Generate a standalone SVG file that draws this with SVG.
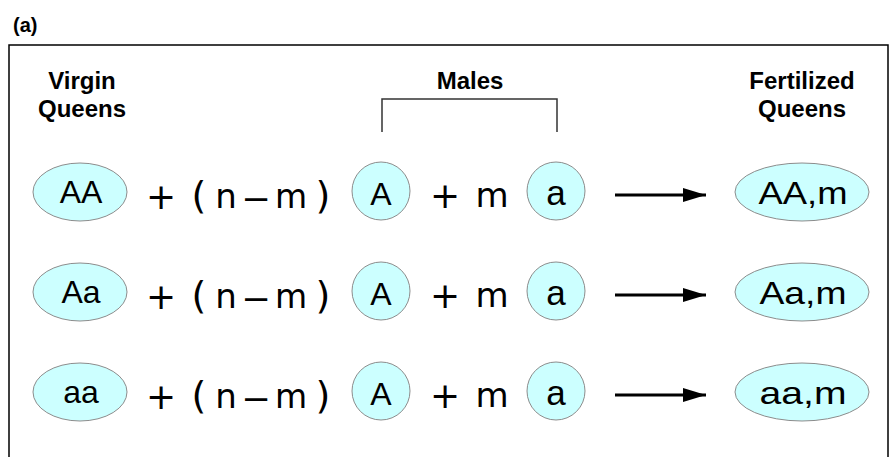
<svg xmlns="http://www.w3.org/2000/svg" width="895" height="457" viewBox="0 0 895 457">
<style>
text{font-family:"Liberation Sans",Arial,sans-serif;fill:#000}
.h{font-weight:bold;font-size:24px;text-anchor:middle}
.g{font-size:32px;text-anchor:middle}
.e{font-family:"DejaVu Sans",sans-serif;font-size:34px;text-anchor:middle}
.m{font-family:"DejaVu Sans",sans-serif;font-size:33px;text-anchor:middle}
.d{font-family:"Liberation Sans",Arial,sans-serif;font-size:40px;text-anchor:middle}
.q{font-family:"DejaVu Sans",sans-serif;font-size:38px;text-anchor:middle}
.p{font-family:"DejaVu Sans",sans-serif;font-size:36px;text-anchor:middle}
.n{fill:#ccffff;stroke:#8c8c8c;stroke-width:1}
.ar{stroke:#000;stroke-width:3;fill:none}
</style>
<defs>
<marker id="ah" viewBox="0 0 23 14" refX="23" refY="7" markerWidth="23" markerHeight="14" markerUnits="userSpaceOnUse" orient="auto">
<path d="M0,0 L23,7 L0,14 Z" fill="#000"/>
</marker>
</defs>
<rect width="895" height="457" fill="#fff"/>
<text x="13" y="32" style="font-weight:bold;font-size:20px">(a)</text>
<path d="M9,460 V45 H888 V460" fill="none" stroke="#000" stroke-width="1.5"/>
<g id="headers">
<text class="h" x="82" y="89">Virgin</text>
<text class="h" x="82" y="117">Queens</text>
<text class="h" x="470" y="89">Males</text>
<path d="M382,132 V99 H557 V132" fill="none" stroke="#333" stroke-width="1.5"/>
<text class="h" x="802" y="89">Fertilized</text>
<text class="h" x="802" y="117">Queens</text>
</g>
<g id="connectors">
<line class="ar" x1="615" y1="195" x2="706" y2="195" marker-end="url(#ah)"/>
<line class="ar" x1="615" y1="295" x2="706" y2="295" marker-end="url(#ah)"/>
<line class="ar" x1="615" y1="395" x2="706" y2="395" marker-end="url(#ah)"/>
</g>
<g id="row1">
<g id="vq1"><ellipse class="n" cx="80" cy="192" rx="47" ry="29"/><text class="g" x="81" y="203">AA</text></g>
<text class="p" x="161" y="209">+</text>
<text class="q" x="199" y="208">(</text>
<text class="e" x="226" y="208">n</text>
<text class="d" x="256" y="210">–</text>
<text class="m" x="291" y="208">m</text>
<text class="q" x="323" y="208">)</text>
<g id="mA1"><circle class="n" cx="381" cy="191" r="29"/><text class="g" x="381" y="205">A</text></g>
<text class="p" x="445" y="208">+</text>
<text class="e" x="492" y="207">m</text>
<g id="ma1"><circle class="n" cx="556" cy="191" r="29"/><text class="g" x="556" y="205" style="font-size:35px">a</text></g>
<g id="fq1"><ellipse class="n" cx="802" cy="192" rx="67" ry="29"/><text class="g" x="803" y="204" textLength="89" lengthAdjust="spacingAndGlyphs">AA,m</text></g>
</g>
<g id="row2">
<g id="vq2"><ellipse class="n" cx="80" cy="292" rx="47" ry="29"/><text class="g" x="81" y="303">Aa</text></g>
<text class="p" x="161" y="309">+</text>
<text class="q" x="199" y="308">(</text>
<text class="e" x="226" y="308">n</text>
<text class="d" x="256" y="310">–</text>
<text class="m" x="291" y="308">m</text>
<text class="q" x="323" y="308">)</text>
<g id="mA2"><circle class="n" cx="381" cy="291" r="29"/><text class="g" x="381" y="305">A</text></g>
<text class="p" x="445" y="308">+</text>
<text class="e" x="492" y="307">m</text>
<g id="ma2"><circle class="n" cx="556" cy="291" r="29"/><text class="g" x="556" y="305" style="font-size:35px">a</text></g>
<g id="fq2"><ellipse class="n" cx="802" cy="292" rx="67" ry="29"/><text class="g" x="803" y="304" textLength="87" lengthAdjust="spacingAndGlyphs">Aa,m</text></g>
</g>
<g id="row3">
<g id="vq3"><ellipse class="n" cx="80" cy="392" rx="47" ry="29"/><text class="g" x="81" y="403">aa</text></g>
<text class="p" x="161" y="409">+</text>
<text class="q" x="199" y="408">(</text>
<text class="e" x="226" y="408">n</text>
<text class="d" x="256" y="410">–</text>
<text class="m" x="291" y="408">m</text>
<text class="q" x="323" y="408">)</text>
<g id="mA3"><circle class="n" cx="381" cy="391" r="29"/><text class="g" x="381" y="405">A</text></g>
<text class="p" x="445" y="408">+</text>
<text class="e" x="492" y="407">m</text>
<g id="ma3"><circle class="n" cx="556" cy="391" r="29"/><text class="g" x="556" y="405" style="font-size:35px">a</text></g>
<g id="fq3"><ellipse class="n" cx="802" cy="392" rx="67" ry="29"/><text class="g" x="803" y="404" textLength="87" lengthAdjust="spacingAndGlyphs">aa,m</text></g>
</g>
</svg>
